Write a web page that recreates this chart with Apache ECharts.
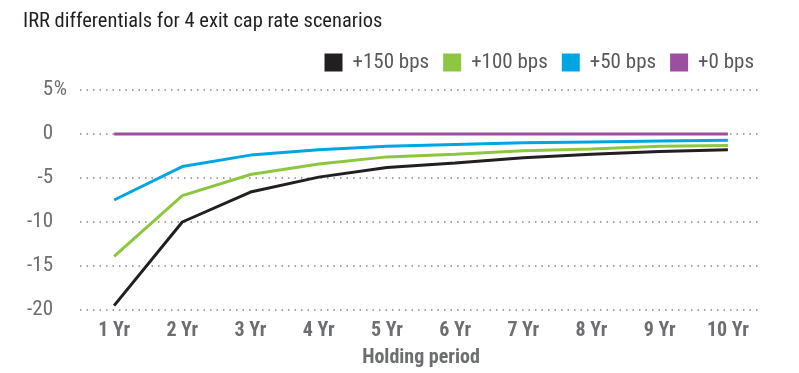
<!DOCTYPE html>
<html><head><meta charset="utf-8">
<script src="https://cdn.jsdelivr.net/npm/echarts@6/dist/echarts.min.js"></script>
<style>html,body{margin:0;padding:0;background:#fff}#c{width:799px;height:373px}</style>
</head><body><div id="c"></div>
<script>
const categories = ['1 Yr','2 Yr','3 Yr','4 Yr','5 Yr','6 Yr','7 Yr','8 Yr','9 Yr','10 Yr'];
const bps150 = [-19.5,-10.0,-6.6,-4.9,-3.8,-3.3,-2.7,-2.3,-2.0,-1.8];
const bps100 = [-13.9,-7.0,-4.6,-3.4,-2.6,-2.3,-1.9,-1.7,-1.4,-1.3];
const bps50 = [-7.5,-3.7,-2.4,-1.8,-1.4,-1.2,-1.0,-0.9,-0.8,-0.7];
const bps0 = [0,0,0,0,0,0,0,0,0,0];
const seriesNames = ['+150 bps','+100 bps','+50 bps','+0 bps'];
const colors = ['#231f20','#8dc63f','#00a6e2','#9b4f9f'];
const FONT = '"Roboto Condensed","Liberation Sans Narrow",sans-serif';
const chart = echarts.init(document.getElementById('c'));
const data = [bps150,bps100,bps50,bps0];
chart.setOption({
  animation:false,
  title:{text:'IRR differentials for 4 exit cap rate scenarios',left:18,top:6,
    textStyle:{fontFamily:FONT,fontSize:20.5,fontWeight:'normal',color:'#231f20'}},
  legend:{right:40,top:47,icon:'rect',itemWidth:18,itemHeight:18,itemGap:14,
    data:seriesNames,textStyle:{fontFamily:FONT,fontSize:21,color:'#58595b',padding:[0,0,0,5]}},
  grid:{left:80,right:37,top:90,bottom:59,containLabel:false},
  xAxis:{type:'category',data:categories,boundaryGap:true,
    name:'Holding period',nameLocation:'middle',nameGap:38,
    nameTextStyle:{fontFamily:FONT,fontSize:20,fontWeight:'bold',color:'#6d6e71'},
    axisLine:{show:false},axisTick:{show:false},
    axisLabel:{fontFamily:FONT,fontSize:20,fontWeight:'bold',color:'#6d6e71',margin:11}},
  yAxis:{type:'value',min:-20,max:5,interval:5,
    axisLine:{show:false},axisTick:{show:false},
    axisLabel:{fontFamily:FONT,fontSize:21,color:'#6d6e71',margin:12,
      formatter:v=>v===5?'{n|5}{p|%}':'{n|'+v+'}{p| }',
      rich:{n:{fontFamily:FONT,fontSize:21,color:'#6d6e71'},
            p:{fontFamily:FONT,fontSize:21,color:'#6d6e71',width:15,align:'left'}}},
    splitLine:{lineStyle:{color:'#8a8a8a',type:[1.5,5],width:1.5}}},
  color:colors,
  series:seriesNames.map((n,i)=>({name:n,type:'line',data:data[i],symbol:'none',
    lineStyle:{width:3,color:colors[i]},itemStyle:{color:colors[i]},z:10-i}))
});
</script></body></html>
